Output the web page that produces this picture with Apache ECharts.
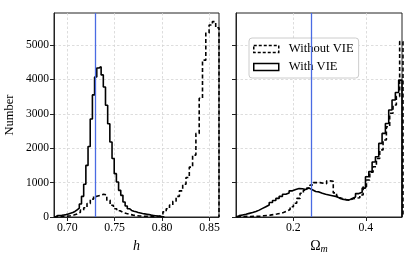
<!DOCTYPE html>
<html><head><meta charset="utf-8">
<script src="https://cdn.jsdelivr.net/npm/echarts@6/dist/echarts.min.js"></script>
<style>html,body{margin:0;padding:0;background:#fff}#c{width:415px;height:260px}</style>
</head><body><div id="c"></div>
<script>
// ---- data ----
const hTicks = [0.70, 0.75, 0.80, 0.85];
const omTicks = [0.2, 0.4];
const yTicks = [0, 1000, 2000, 3000, 4000, 5000];
const hTrue = 0.73;
const omTrue = 0.25;
const seriesNames = ['Without VIE', 'With VIE'];

// left panel (h), "With VIE" histogram: first bin edge, bin width, counts
const hWithStart = 0.6874, hWithWidth = 0.0023;
const hWith = [40, 45, 50, 60, 70, 90, 110, 130, 160, 210,
  260, 380, 600, 950, 1500, 2050, 2850, 3550, 4070, 4330,
  4370, 4130, 3780, 3250, 2710, 2180, 1700, 1260, 1017, 775,
  630, 436, 320, 240, 190, 165, 150, 130, 115, 100,
  90, 80, 70, 55, 45, 35, 25, 18, 12, 8];

// left panel (h), "Without VIE"
const hWithoutStart = 0.686, hWithoutWidth = 0.00348;
const hWithout = [10, 15, 20, 25, 35, 55, 90, 140, 200, 270,
  390, 520, 600, 630, 660, 640, 490, 340, 240, 180,
  130, 100, 75, 55, 40, 30, 25, 20, 15, 12,
  12, 25, 70, 150, 240, 350, 460, 600, 760, 950,
  1150, 1450, 1800, 2430, 3450, 4560, 5350, 5580, 5680, 5500];

// right panel (Omega_m), "With VIE"
const omWithStart = 0.042, omWithWidth = 0.00916;
const omWith = [40, 60, 80, 105, 130, 160, 200, 250, 300, 350,
  420, 480, 540, 600, 660, 700, 760, 800, 830, 820,
  800, 840, 790, 740, 730, 690, 660, 640, 620, 600,
  560, 520, 500, 490, 540, 580, 680, 720, 840, 1170,
  1320, 1600, 1750, 2140, 2430, 2720, 3110, 3400, 3620, 3980];

// right panel (Omega_m), "Without VIE"
const omWithoutStart = 0.0447, omWithoutWidth = 0.00916;
const omWithout = [15, 15, 20, 15, 20, 20, 25, 35, 45, 55,
  70, 85, 105, 130, 170, 220, 300, 400, 540, 690,
  780, 840, 930, 1000, 1000, 980, 970, 1050, 1040, 700,
  600, 540, 500, 500, 530, 550, 560, 640, 880, 1075,
  1300, 1460, 1700, 1950, 2240, 2625, 3015, 3255, 3500, 5100];

// ---- helpers ----
function stepPoints(start, width, counts) {
  const pts = [[start, 0]];
  counts.forEach((v, i) => {
    pts.push([start + i * width, v]);
    pts.push([start + (i + 1) * width, v]);
  });
  pts.push([start + counts.length * width, 0]);
  return pts;
}

const FONT = 'Liberation Serif';
const AX = '#222';
const GRIDC = '#d4d4d4';
const dashPattern = [4, 2.5];

function histSeries(name, idx, start, width, counts, dashed, extra) {
  return Object.assign({
    name: name,
    type: 'line',
    xAxisIndex: idx, yAxisIndex: idx,
    data: stepPoints(start, width, counts),
    showSymbol: false, symbol: 'none',
    clip: true,
    lineStyle: { color: '#000', width: 1.6, type: dashed ? dashPattern : 'solid' },
    itemStyle: { color: '#000' },
    z: 3
  }, extra || {});
}

function vline(x) {
  return {
    silent: true, symbol: ['none', 'none'], animation: false,
    label: { show: false },
    lineStyle: { color: '#4a6be3', width: 1.3, type: 'solid' },
    data: [{ xAxis: x }],
    z: 5
  };
}

const yLimit = 5930;
function yAxis(idx, labels) {
  return {
    type: 'value', gridIndex: idx, min: 0, max: yLimit,
    name: labels ? 'Number' : '', nameLocation: 'middle', nameGap: 38, nameRotate: 90,
    nameTextStyle: { fontFamily: FONT, fontSize: 12.5, color: '#000' },
    axisLine: { show: true, lineStyle: { color: AX, width: 1 } },
    axisTick: { show: true, length: 4, lineStyle: { color: AX }, customValues: yTicks },
    axisLabel: { show: labels, fontFamily: FONT, fontSize: 11.5, color: '#000', margin: 5, customValues: yTicks,
      formatter: v => String(Math.round(v)) },
    splitLine: { show: true, lineStyle: { color: GRIDC, width: 0.8, type: [2.5, 2] } }
  };
}

function xAxis(idx, min, max, ticks, digits, name, nameStyle, gap) {
  return {
    type: 'value', gridIndex: idx, min: min, max: max,
    name: name, nameLocation: 'middle', nameGap: gap,
    nameTextStyle: nameStyle,
    axisLine: { show: true, lineStyle: { color: AX, width: 1 } },
    axisTick: { show: true, length: 4, lineStyle: { color: AX }, customValues: ticks },
    axisLabel: { fontFamily: FONT, fontSize: 11.8, color: '#000', margin: 5, customValues: ticks,
      formatter: v => v.toFixed(digits) },
    splitLine: { show: true, lineStyle: { color: GRIDC, width: 0.8, type: [2.5, 2] } }
  };
}

const chart = echarts.init(document.getElementById('c'), null, { renderer: 'canvas' });
chart.setOption({
  animation: false,
  backgroundColor: '#fff',
  grid: [
    { left: 54, top: 13, width: 165, height: 204, show: true, borderColor: AX, borderWidth: 1, backgroundColor: 'transparent' },
    { left: 236, top: 13, width: 166, height: 204, show: true, borderColor: AX, borderWidth: 1, backgroundColor: 'transparent' }
  ],
  xAxis: [
    xAxis(0, 0.686, 0.86, hTicks, 2, 'h', { fontFamily: FONT, fontStyle: 'italic', fontSize: 14, color: '#000' }, 20),
    xAxis(1, 0.042, 0.5, omTicks, 1, '{a|Ω}{b|m}', {
      fontFamily: FONT, fontSize: 14, color: '#000',
      rich: {
        a: { fontFamily: FONT, fontSize: 14, color: '#000' },
        b: { fontFamily: FONT, fontStyle: 'italic', fontSize: 10, color: '#000', padding: [6, 0, 0, 0] }
      }
    }, 17)
  ],
  yAxis: [yAxis(0, true), yAxis(1, false)],
  legend: {
    orient: 'vertical', left: 249, top: 38,
    padding: [4, 5, 4, 4], itemGap: 4, itemWidth: 25, itemHeight: 7,
    backgroundColor: '#fff', borderColor: '#cccccc', borderWidth: 1, borderRadius: 3,
    textStyle: { fontFamily: FONT, fontSize: 12.6, color: '#000', lineHeight: 14, padding: [0, 0, 0, 5] },
    selectedMode: false,
    data: [
      { name: seriesNames[0], icon: 'rect', itemStyle: { color: '#fff', borderColor: '#000', borderWidth: 1.5, borderType: [3, 2] } },
      { name: seriesNames[1], icon: 'rect', itemStyle: { color: '#fff', borderColor: '#000', borderWidth: 1.5, borderType: 'solid' } }
    ]
  },
  series: [
    histSeries(seriesNames[0], 0, hWithoutStart, hWithoutWidth, hWithout, true, { markLine: vline(hTrue) }),
    histSeries(seriesNames[1], 0, hWithStart, hWithWidth, hWith, false),
    histSeries(seriesNames[0], 1, omWithoutStart, omWithoutWidth, omWithout, true, { markLine: vline(omTrue) }),
    histSeries(seriesNames[1], 1, omWithStart, omWithWidth, omWith, false)
  ]
});
</script>
</body></html>
